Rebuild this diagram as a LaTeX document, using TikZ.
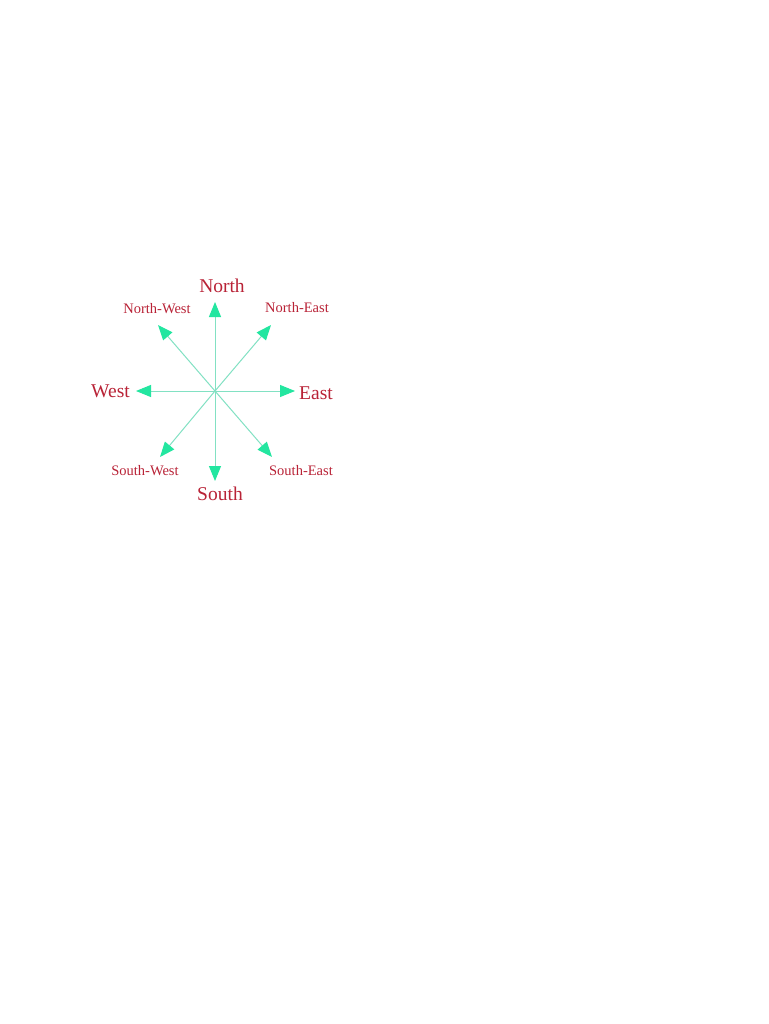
\documentclass[tikz,border=0pt]{standalone}
\usepackage{fontspec}
\setmainfont{Liberation Serif}
\usetikzlibrary{arrows.meta, positioning}
\definecolor{dirred}{RGB}{185,35,55}
\definecolor{tipgreen}{RGB}{35,230,160}
\definecolor{shaftgreen}{RGB}{130,225,195}

\tikzset{
	bigdir/.style={text=dirred, font=\fontsize{19.5}{20}\selectfont, anchor=base, inner sep=0pt},
	smalldir/.style={text=dirred, font=\fontsize{14.5}{15}\selectfont, anchor=base, inner sep=0pt},
	arr/.style={draw=shaftgreen, line width=1pt, -{Triangle[length=15pt,width=12pt,color=tipgreen,fill=tipgreen]}}
}

\begin{document}
\begin{tikzpicture}[x=1pt,y=-1pt]
				\useasboundingbox[fill=white] (0,0) rectangle (768,1024);
				\coordinate (c) at (215,391);
				\coordinate (n) at (215,302);
				\coordinate (s) at (215,481);
				\coordinate (e) at (295,391);
				\coordinate (w) at (136,391);
				\coordinate (ne) at (271,325);
				\coordinate (nw) at (158,325);
				\coordinate (se) at (272,457);
				\coordinate (sw) at (160,457);
				\draw[arr] (c) -- (n);
				\draw[arr] (c) -- (s);
				\draw[arr] (c) -- (e);
				\draw[arr] (c) -- (w);
				\draw[arr] (c) -- (ne);
				\draw[arr] (c) -- (nw);
				\draw[arr] (c) -- (se);
				\draw[arr] (c) -- (sw);
				\node[bigdir] (north) at (222,292) {North};
				\node[bigdir] (south) at (220,500) {South};
				\node[bigdir] (west) at (110.5,397) {West};
				\node[bigdir] (east) at (316,399) {East};
				\node[smalldir] (northwest) at (157,313) {North-West};
				\node[smalldir] (northeast) at (297,312) {North-East};
				\node[smalldir] (southwest) at (145,475) {South-West};
				\node[smalldir] (southeast) at (301,475) {South-East};
			\end{tikzpicture}
\end{document}
